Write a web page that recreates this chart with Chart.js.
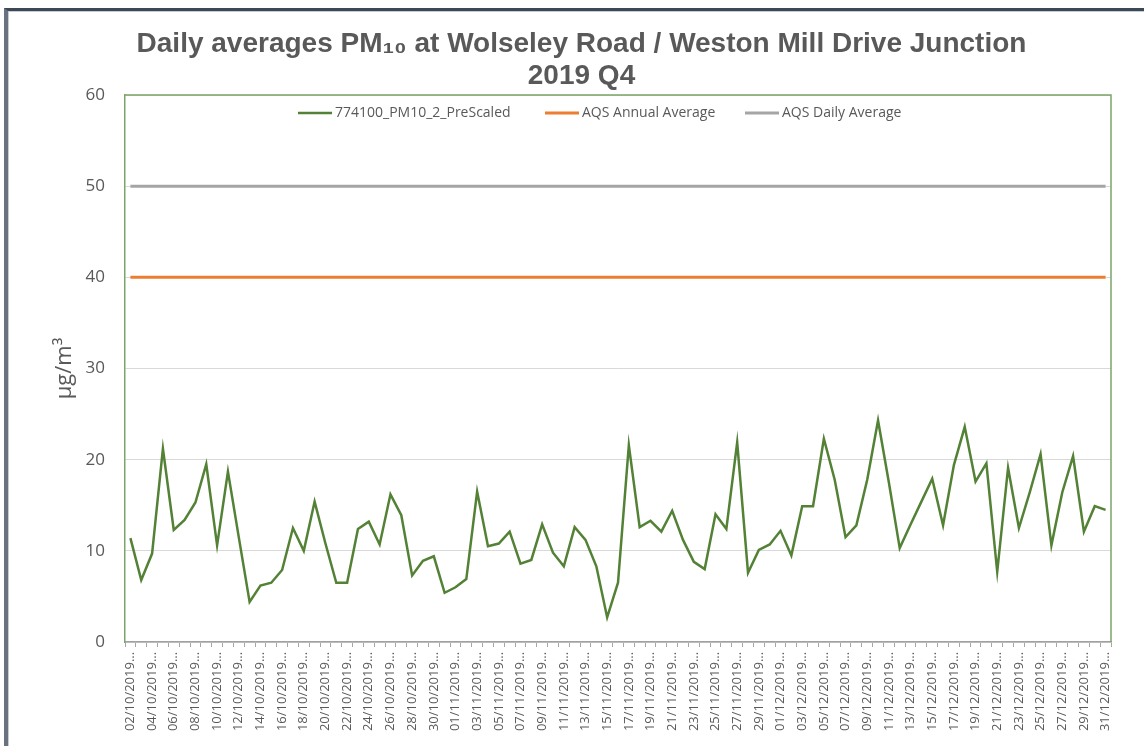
<!DOCTYPE html>
<html>
<head>
<meta charset="utf-8">
<script src="https://cdn.jsdelivr.net/npm/chart.js@4.4.0/dist/chart.umd.min.js"></script>
<style>
  html, body { margin: 0; padding: 0; background: #fff; }
  #wrap { position: relative; width: 1144px; height: 746px; overflow: hidden; }
  #frame { position: absolute; left: 4px; top: 8px; width: 1200px; height: 800px;
           border-top: 3px solid #3d4856; border-left: 4px solid #69737f;
           box-shadow: inset 1px 1px 0 #c5ccd4; pointer-events: none; }
  canvas { position: absolute; left: 0; top: 0; }
</style>
</head>
<body>
<div id="wrap">
  <canvas id="pmChart" width="1144" height="746"></canvas>
  <div id="frame"></div>
</div>
<script>
// ==========================================
// Daily PM10 averages, 2019 Q4
// ==========================================

const START_DAY = new Date(2019, 9, 2);   // 02/10/2019
const DAY_COUNT = 91;                     // .. 31/12/2019

const dayLabels = [];
for (let i = 0; i < DAY_COUNT; i++) {
    const d = new Date(START_DAY); d.setDate(START_DAY.getDate() + i);
    dayLabels.push(`${('0' + d.getDate()).slice(-2)}/${('0' + (d.getMonth() + 1)).slice(-2)}/${d.getFullYear()}…`);
}

// values (µg/m3)
const pm10Daily = [
    11.4, 6.8, 9.7, 21.2, 12.3, 13.4, 15.3, 19.5, 10.6, 18.7,
    11.5, 4.4, 6.2, 6.5, 7.9, 12.5, 10.0, 15.4, 10.8, 6.5,
    6.5, 12.4, 13.2, 10.7, 16.2, 13.9, 7.3, 8.9, 9.4, 5.4,
    6.0, 6.9, 16.5, 10.5, 10.8, 12.1, 8.6, 9.0, 12.9, 9.8,
    8.3, 12.6, 11.2, 8.3, 2.7, 6.5, 21.6, 12.6, 13.3, 12.1,
    14.4, 11.2, 8.8, 8.0, 14.0, 12.4, 21.9, 7.6, 10.1, 10.7,
    12.2, 9.5, 14.9, 14.9, 22.3, 17.8, 11.5, 12.8, 17.8, 24.3,
    17.5, 10.3, 12.9, 15.4, 17.9, 12.8, 19.4, 23.6, 17.6, 19.6,
    7.7, 19.1, 12.5, 16.4, 20.6, 10.6, 16.4, 20.4, 12.1, 14.9,
    14.5
];

const AQS_ANNUAL = 40;
const AQS_DAILY = 50;
const aqsAnnual = dayLabels.map(() => AQS_ANNUAL);
const aqsDaily = dayLabels.map(() => AQS_DAILY);

const seriesNames = ['774100_PM10_2_PreScaled', 'AQS Annual Average', 'AQS Daily Average'];
const seriesColors = ['#538135', '#ed7d31', '#a5a5a5'];
const yTicks = [0, 10, 20, 30, 40, 50, 60];

const TEXT_GREY = '#595959';
const PLOT_BORDER = '#7ea36a';

// top + right edge of the plot area (Excel style green frame)
const plotFramePlugin = {
    id: 'plotFrame',
    beforeDatasetsDraw: (chart) => {
        const ctx = chart.ctx;
        const a = chart.chartArea;
        ctx.save();
        ctx.strokeStyle = PLOT_BORDER;
        ctx.lineWidth = 1.5;
        ctx.beginPath();
        ctx.moveTo(a.left, a.top);
        ctx.lineTo(a.right, a.top);
        ctx.lineTo(a.right, a.bottom);
        ctx.stroke();
        ctx.restore();
    }
};

// legend sits inside the plot area, like the Excel original
const legendStarts = [298, 545, 745];
const innerLegendPlugin = {
    id: 'innerLegend',
    afterDatasetsDraw: (chart) => {
        const ctx = chart.ctx;
        const y = chart.chartArea.top + 18;
        ctx.save();
        ctx.font = '14px "Open Sans"';
        ctx.textBaseline = 'middle';
        chart.data.datasets.forEach((ds, i) => {
            const x = legendStarts[i];
            ctx.strokeStyle = ds.borderColor;
            ctx.lineWidth = ds.borderWidth;
            ctx.beginPath();
            ctx.moveTo(x, y);
            ctx.lineTo(x + 34, y);
            ctx.stroke();
            ctx.fillStyle = TEXT_GREY;
            ctx.fillText(ds.label, x + 37, y);
        });
        ctx.restore();
    }
};

const ctxMain = document.getElementById('pmChart').getContext('2d');
new Chart(ctxMain, {
    type: 'line',
    data: {
        labels: dayLabels,
        datasets: [
            { label: seriesNames[0], data: pm10Daily, borderColor: seriesColors[0], borderWidth: 2.5, pointRadius: 0, tension: 0, fill: false },
            { label: seriesNames[1], data: aqsAnnual, borderColor: seriesColors[1], borderWidth: 3, pointRadius: 0, tension: 0, fill: false },
            { label: seriesNames[2], data: aqsDaily, borderColor: seriesColors[2], borderWidth: 3, pointRadius: 0, tension: 0, fill: false }
        ]
    },
    options: {
        responsive: false, animation: false,
        layout: { padding: { top: 0, bottom: 0, left: 52, right: 33 } },
        plugins: {
            legend: { display: false },
            tooltip: { enabled: false },
            title: {
                display: true,
                text: ['Daily averages PM₁₀ at Wolseley Road / Weston Mill Drive Junction', '2019 Q4'],
                color: TEXT_GREY,
                font: { family: '"Liberation Sans", Arial, sans-serif', weight: 'bold', size: 28, lineHeight: 1.143 },
                padding: { top: 28, bottom: 3 }
            }
        },
        scales: {
            x: {
                offset: true,
                grid: { offset: true, drawOnChartArea: false, drawTicks: true, tickLength: 5, color: '#a6a6a6' },
                border: { color: '#a0a0a0', width: 1.5 },
                ticks: {
                    autoSkip: false, maxRotation: 90, minRotation: 90, padding: 5,
                    color: TEXT_GREY, font: { family: '"Open Sans"', size: 13 },
                    callback: (v, i) => (i % 2 === 0 ? dayLabels[i] : '')
                },
                afterFit: (scale) => { scale.height = 104; }
            },
            y: {
                min: yTicks[0], max: yTicks[yTicks.length - 1],
                afterBuildTicks: (scale) => { scale.ticks = yTicks.map(v => ({ value: v })); },
                grid: { color: '#d9d9d9', drawTicks: false },
                border: { color: PLOT_BORDER, width: 1.5 },
                ticks: { padding: 20, color: TEXT_GREY, font: { family: '"Open Sans"', size: 17 } },
                title: { display: true, text: 'µg/m³', color: TEXT_GREY, font: { family: '"Open Sans"', size: 22 }, padding: { top: 0, bottom: 0 } },
                afterFit: (scale) => { scale.width = 73; }
            }
        }
    },
    plugins: [plotFramePlugin, innerLegendPlugin]
});
</script>
</body>
</html>
